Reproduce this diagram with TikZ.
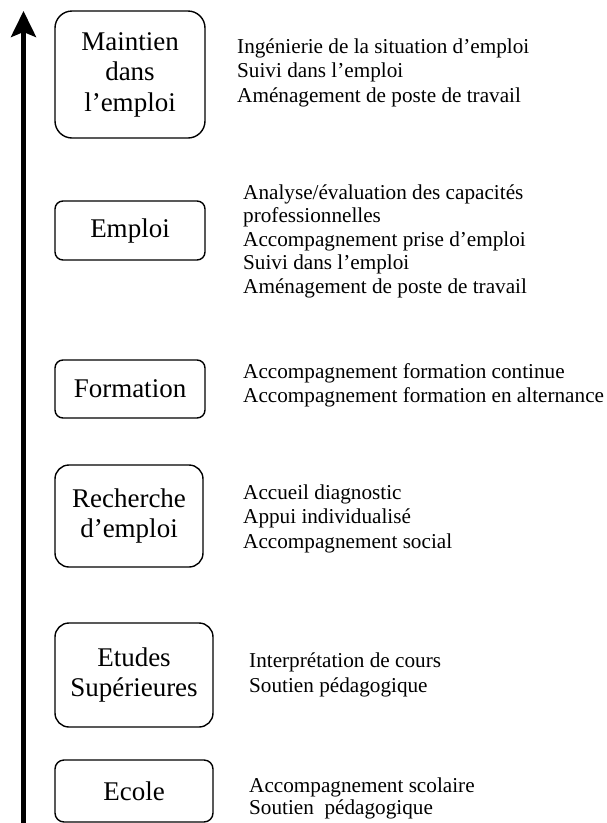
\documentclass[tikz,border=0pt]{standalone}
\usepackage{fontspec}
\setmainfont{Liberation Serif}
\usetikzlibrary{arrows.meta}
\tikzset{
  stage/.style={draw=black, line width=1.4pt, align=center, inner sep=0pt,
    font=\fontsize{27}{30.5}\selectfont},
  item/.style={anchor=base west, inner sep=0pt, font=\fontsize{21.2}{24}\selectfont},
  axis/.style={line width=4.5pt, -{Stealth[length=26pt, width=25pt, inset=5pt]}}
}
\begin{document}
\begin{tikzpicture}[x=1pt, y=-1pt]
\useasboundingbox (0,0) rectangle (607,823);
% axis
\coordinate (abot) at (23.5,830);
\coordinate (atop) at (23.5,11);
\draw[axis] (abot) -- (atop);
% stage boxes
\node[stage, minimum width=150pt, minimum height=127pt, rounded corners=17pt] (maint) at (130,74.5) {Maintien\\dans\\l’emploi};
\node[stage, minimum width=150pt, minimum height=59pt, rounded corners=8pt] (empl) at (130,230.5) {Emploi};
\node[stage, minimum width=150pt, minimum height=58pt, rounded corners=8pt] (form) at (130,389) {Formation};
\node[stage, minimum width=148pt, minimum height=102pt, rounded corners=14pt] (rech) at (129,516) {Recherche\\d’emploi};
\node[stage, minimum width=158pt, minimum height=104pt, rounded corners=14pt] (etud) at (134,675) {Etudes\\Supérieures};
\node[stage, minimum width=158pt, minimum height=62pt, rounded corners=9pt] (ecol) at (134,791) {Ecole};
% items
\node[item] (m1) at (237,53) {Ingénierie de la situation d’emploi};
\node[item] (m2) at (237,77.5) {Suivi dans l’emploi};
\node[item] (m3) at (237,102) {Aménagement de poste de travail};
\node[item] (e1) at (243,199) {Analyse/évaluation des capacités};
\node[item] (e2) at (243,222.5) {professionnelles};
\node[item] (e3) at (243,246) {Accompagnement prise d’emploi};
\node[item] (e4) at (243,269.5) {Suivi dans l’emploi};
\node[item] (e5) at (243,293) {Aménagement de poste de travail};
\node[item] (f1) at (243,378) {Accompagnement formation continue};
\node[item] (f2) at (243,402) {Accompagnement formation en alternance};
\node[item] (r1) at (243,499) {Accueil diagnostic};
\node[item] (r2) at (243,523.5) {Appui individualisé};
\node[item] (r3) at (243,548) {Accompagnement social};
\node[item] (s1) at (249,667) {Interprétation de cours};
\node[item] (s2) at (249,692) {Soutien pédagogique};
\node[item] (c1) at (249,792) {Accompagnement scolaire};
\node[item] (c2) at (249,814) {Soutien\ \ pédagogique};
\end{tikzpicture}
\end{document}
